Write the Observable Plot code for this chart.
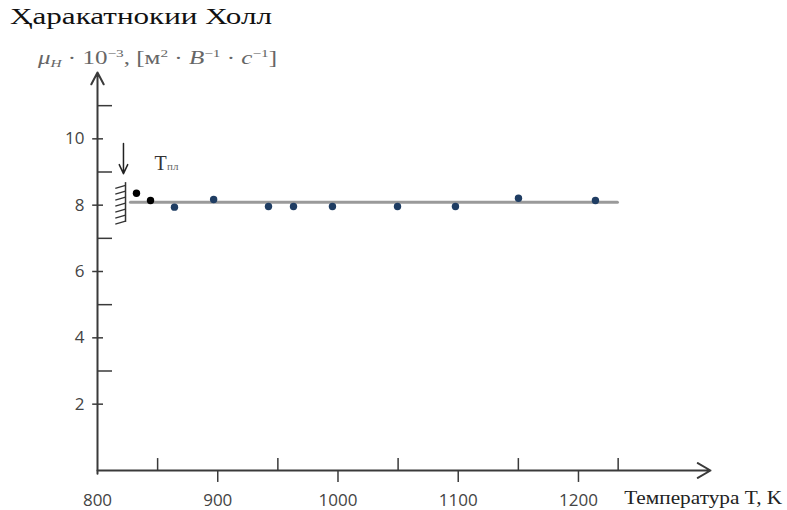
<!DOCTYPE html>
<html>
<head>
<meta charset="utf-8">
<script src="https://cdn.jsdelivr.net/npm/d3@7"></script>
<script src="https://cdn.jsdelivr.net/npm/@observablehq/plot@0.6"></script>
<style>
  body { margin: 0; background: #fff; }
  #wrap { position: relative; width: 787px; height: 510px; overflow: hidden; }
  .ov { position: absolute; white-space: nowrap; transform-origin: left top; font-family: "Liberation Serif", "DejaVu Serif", serif; }
  #title { left: 10px; top: 3px; font-size: 24px; color: #111; }
  #ylab { left: 38px; top: 47px; font-size: 18px; color: #666; }
  #ylab sup { font-size: 11px; vertical-align: 7px; }
  #ylab sub { font-size: 11px; vertical-align: -3px; }
</style>
</head>
<body>
<div id="wrap">
  <div id="title" class="ov" data-w="262">Ҳаракатнокии Холл</div>
  <div id="ylab" class="ov" data-w="239"><i>μ<sub>H</sub></i> · 10<sup>−3</sup>, [м<sup>2</sup> · <i>B</i><sup>−1</sup> · <i>c</i><sup>−1</sup>]</div>
</div>
<script>
// ---- data ----
const temps   = [832.4, 844.1, 864.0, 896.6, 942.2, 963.0, 995.4, 1049.5, 1097.7, 1150.1, 1214.1];
const mobility = [8.36, 8.14, 7.94, 8.17, 7.96, 7.96, 7.96, 7.96, 7.96, 8.21, 8.14];
const pointGroup = ["solid", "solid", "meas", "meas", "meas", "meas", "meas", "meas", "meas", "meas", "meas"];
const fitT = [827.4, 1232.4];
const fitValue = 8.09;
const xMajorTicks = [800, 900, 1000, 1100, 1200];
const xMinorTicks = [850, 950, 1050, 1150, 1233];
const yMajorTicks = [2, 4, 6, 8, 10];
const yMinorTicks = [3, 5, 7, 9, 11];
const meltT = 821.6;             // arrow marking melting point
const meltArrowFrom = 9.86, meltArrowTo = 8.95;
const wallT = 823.3, wallTop = 8.68, wallBottom = 7.48;
const hatchLevels = [8.6, 8.42, 8.24, 8.06, 7.88, 7.7, 7.52];
const meltLabel = "T", meltSub = "пл";
const xLabel = "Температура T, K";

const points = temps.map((t, i) => ({t, m: mobility[i], g: pointGroup[i]}));
const hatch = hatchLevels.map(m => ({x1: wallT, y1: m, x2: wallT - 8.5, y2: m - 0.09}));

const axisColor = "#3a3a3a";
const tickFont = "Open Sans, sans-serif";

const chart = Plot.plot({
  width: 787,
  height: 510,
  marginLeft: 97,
  marginRight: 77,
  marginTop: 72,
  marginBottom: 40,
  x: {domain: [800, 1309.8], axis: null},
  y: {domain: [0, 12], axis: null},
  clip: false,
  style: {background: "transparent", overflow: "visible"},
  marks: [
    // fit line
    Plot.line(fitT.map(t => ({t, m: fitValue})), {x: "t", y: "m", stroke: "#9a9a9a", strokeWidth: 3}),
    // axes with arrows
    Plot.arrow([{x1: 800, y1: -0.1, x2: 800, y2: 12}], {x1: "x1", y1: "y1", x2: "x2", y2: "y2", stroke: axisColor, strokeWidth: 2, headLength: 10, headAngle: 55}),
    Plot.arrow([{x1: 800, y1: 0, x2: 1309.8, y2: 0}], {x1: "x1", y1: "y1", x2: "x2", y2: "y2", stroke: axisColor, strokeWidth: 2, headLength: 11, headAngle: 60}),
    // x ticks: major down, minor up
    Plot.ruleX(xMajorTicks.slice(1), {x: d => d, y1: 0, y2: -0.36, stroke: axisColor, strokeWidth: 1.5}),
    Plot.ruleX(xMinorTicks, {x: d => d, y1: 0, y2: 0.36, stroke: axisColor, strokeWidth: 1.5}),
    Plot.text(xMajorTicks, {x: d => d, y: 0, text: d => String(d), dy: 30, fontSize: 17, fontFamily: tickFont, fill: "#444"}),
    // y ticks: major cross, minor to right
    Plot.ruleY(yMajorTicks, {y: d => d, x1: 796, x2: 805, stroke: axisColor, strokeWidth: 1.5}),
    Plot.ruleY(yMinorTicks, {y: d => d, x1: 800, x2: 812.5, stroke: axisColor, strokeWidth: 1.5}),
    Plot.text(yMajorTicks, {x: 800, y: d => d, text: d => String(d), dx: -13, textAnchor: "end", fontSize: 17, fontFamily: tickFont, fill: "#444"}),
    // x label
    Plot.text([xLabel], {x: 1238, y: 0, text: d => d, dy: 28, textAnchor: "start", fontSize: 18, fontFamily: "Liberation Serif, serif", fill: "#222", className: "xlab"}),
    // melting point annotation
    Plot.arrow([{x1: meltT, y1: meltArrowFrom, x2: meltT, y2: meltArrowTo}], {x1: "x1", y1: "y1", x2: "x2", y2: "y2", stroke: "#222", strokeWidth: 1.5, headLength: 10, headAngle: 50}),
    Plot.ruleX([wallT], {x: d => d, y1: wallTop, y2: wallBottom, stroke: "#333", strokeWidth: 1.5}),
    Plot.link(hatch, {x1: "x1", y1: "y1", x2: "x2", y2: "y2", stroke: "#333", strokeWidth: 1.3}),
    Plot.text([meltLabel], {x: 847.5, y: 9.07, text: d => d, textAnchor: "start", lineAnchor: "bottom", fontSize: 20, fontFamily: "Liberation Serif, serif", fill: "#333"}),
    Plot.text([meltSub], {x: 857.8, y: 9.07, text: d => d, textAnchor: "start", lineAnchor: "bottom", fontSize: 11, fontFamily: "Liberation Serif, serif", fill: "#666"}),
    // data points
    Plot.dot(points, {x: "t", y: "m", r: 3.7, fill: d => d.g === "solid" ? "#000000" : "#1f3d63", stroke: "none"})
  ]
});
chart.style.position = "absolute";
chart.style.left = "0px";
chart.style.top = "0px";
const wrap = document.getElementById("wrap");
wrap.insertBefore(chart, wrap.firstChild);

// stretch x label to match the reference width
d3.select(chart).selectAll(".xlab text").attr("textLength", 158).attr("lengthAdjust", "spacingAndGlyphs");

document.querySelectorAll(".ov[data-w]").forEach(el => {
  const w = el.getBoundingClientRect().width;
  const target = +el.dataset.w;
  if (w > 0) el.style.transform = `scaleX(${target / w})`;
});
</script>
</body>
</html>
